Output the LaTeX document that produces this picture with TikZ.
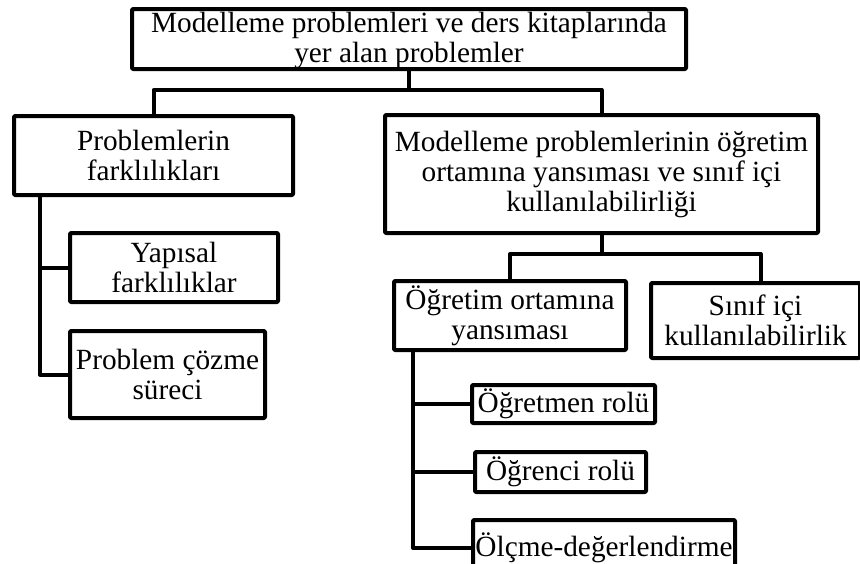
\documentclass[tikz,border=0pt]{standalone}
\usepackage{fontspec}
\setmainfont{Liberation Serif}
\usetikzlibrary{positioning}

\begin{document}
\begin{tikzpicture}[x=1pt, y=-1pt, line width=4pt, line join=round,
                    font=\fontsize{29.3}{30}\selectfont]
  \tikzstyle{kutu}=[draw=black, fill=white, align=center, inner sep=1pt,
                    rounded corners=1pt]

  \useasboundingbox (0,0) rectangle (860,563);
  \fill[white] (0,0) rectangle (860,563);

  \node[kutu, minimum width=554pt, minimum height=60pt, text depth=3pt] (kok) at (409,39)
        {Modelleme problemleri ve ders kitaplarında\\yer alan problemler};
  \node[kutu, minimum width=279pt, minimum height=79pt]  (fark) at (153.5,155.5)
        {Problemlerin\\farklılıkları};
  \node[kutu, minimum width=433pt, minimum height=118pt] (yans) at (601.5,174)
        {Modelleme problemlerinin öğretim\\ortamına yansıması ve sınıf içi\\kullanılabilirliği};

  \node[kutu, minimum width=208pt, minimum height=69pt] (yapi)
        [below right=34pt and 56pt of fark.south west]              {Yapısal\\farklılıklar};
  \node[kutu, minimum width=195pt, minimum height=87pt] (cozme)
        [below=25pt of yapi.south west, anchor=north west]           {Problem çözme\\süreci};

  \node[kutu, minimum width=232pt, minimum height=69pt] (ortam)
        [below right=44pt and 9pt of yans.south west]               {Öğretim ortamına\\yansıması};
  \node[kutu, minimum width=209pt, minimum height=75pt] (sinif)
        [right=21pt of ortam.north east, anchor=north west, yshift=-2pt] {Sınıf içi\\kullanılabilirlik};

  \node[kutu, minimum width=183pt, minimum height=38pt] (ogrt)
        [below right=31pt and 78pt of ortam.south west]             {Öğretmen rolü};
  \node[kutu, minimum width=171pt, minimum height=40pt] (ogrn)
        [below=25pt of ogrt.south west, anchor=north west, xshift=3pt] {Öğrenci rolü};
  \node[kutu, minimum width=262pt, minimum height=56pt] (olcme)
        [below=24pt of ogrn.south west, anchor=north west, xshift=-2pt] {Ölçme-değerlendirme};

  % connectors
  \draw (kok.south) -- ++(0,19) coordinate (kol1);
  \draw (fark.north) |- (kol1) -| (yans.north);
  \draw (yans.south) -- ++(0,19) coordinate (kol2);
  \draw (ortam.north) |- (kol2) -| ([xshift=5pt]sinif.north);
  \draw ([xshift=28pt]fark.south west) |- (yapi.west);
  \draw ([xshift=28pt]fark.south west) |- (cozme.west);
  \draw ([xshift=21pt]ortam.south west) |- (ogrt.west);
  \draw ([xshift=21pt]ortam.south west) |- (ogrn.west);
  \draw ([xshift=21pt]ortam.south west) |- (olcme.west);
\end{tikzpicture}
\end{document}
